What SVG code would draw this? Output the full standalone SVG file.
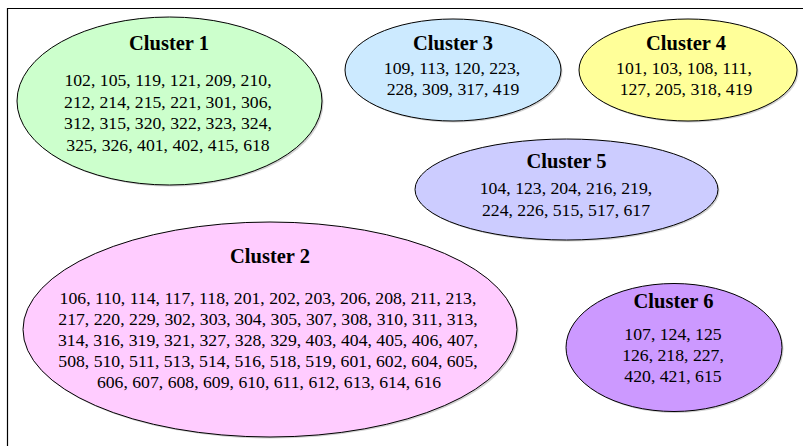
<svg xmlns="http://www.w3.org/2000/svg" width="803" height="446" viewBox="0 0 803 446">
<style>
.e{stroke:#000;stroke-width:1}
.sh{fill:#999;opacity:0.45}
.t{font-family:"Liberation Serif","Times New Roman",serif;font-weight:bold;font-size:20.5px;fill:#000;text-anchor:middle}
.n{font-family:"Liberation Serif","Times New Roman",serif;font-size:17.7px;fill:#000;text-anchor:middle}
</style>
<rect width="803" height="446" fill="#fff"/>
<path d="M7.5 446 V8.5 H803" fill="none" stroke="#000" stroke-width="1.2"/>
<g id="connectors"/>
<g id="cluster1">
<ellipse class="sh" cx="171" cy="102.5" rx="152.5" ry="84"/>
<ellipse class="e" cx="169.5" cy="101" rx="152.5" ry="84" fill="#ccffcc"/>
<text class="t" x="169" y="50">Cluster 1</text>
<text class="n" x="168" y="86">102, 105, 119, 121, 209, 210,</text>
<text class="n" x="168" y="107.5">212, 214, 215, 221, 301, 306,</text>
<text class="n" x="168" y="129">312, 315, 320, 322, 323, 324,</text>
<text class="n" x="168" y="150.5">325, 326, 401, 402, 415, 618</text>
</g>
<g id="cluster3">
<ellipse class="sh" cx="454.5" cy="71.5" rx="108" ry="51"/>
<ellipse class="e" cx="453" cy="70" rx="108" ry="51" fill="#cceaff"/>
<text class="t" x="453" y="50">Cluster 3</text>
<text class="n" x="452" y="74">109, 113, 120, 223,</text>
<text class="n" x="453" y="95">228, 309, 317, 419</text>
</g>
<g id="cluster4">
<ellipse class="sh" cx="689.5" cy="71.5" rx="109" ry="51"/>
<ellipse class="e" cx="688" cy="70" rx="109" ry="51" fill="#ffff99"/>
<text class="t" x="686" y="50">Cluster 4</text>
<text class="n" x="684" y="74">101, 103, 108, 111,</text>
<text class="n" x="686" y="95">127, 205, 318, 419</text>
</g>
<g id="cluster5">
<ellipse class="sh" cx="568" cy="191" rx="151.5" ry="50.5"/>
<ellipse class="e" cx="566.5" cy="189.5" rx="151.5" ry="50.5" fill="#ccccff"/>
<text class="t" x="566.5" y="168">Cluster 5</text>
<text class="n" x="566" y="194">104, 123, 204, 216, 219,</text>
<text class="n" x="566" y="216">224, 226, 515, 517, 617</text>
</g>
<g id="cluster2">
<ellipse class="sh" cx="271.5" cy="331" rx="247" ry="107.5"/>
<ellipse class="e" cx="270" cy="329.5" rx="247" ry="107.5" fill="#ffccff"/>
<text class="t" x="270" y="263">Cluster 2</text>
<text class="n" x="268" y="303.5">106, 110, 114, 117, 118, 201, 202, 203, 206, 208, 211, 213,</text>
<text class="n" x="268" y="324.5">217, 220, 229, 302, 303, 304, 305, 307, 308, 310, 311, 313,</text>
<text class="n" x="268" y="345.5">314, 316, 319, 321, 327, 328, 329, 403, 404, 405, 406, 407,</text>
<text class="n" x="268" y="366.5">508, 510, 511, 513, 514, 516, 518, 519, 601, 602, 604, 605,</text>
<text class="n" x="269" y="387.5">606, 607, 608, 609, 610, 611, 612, 613, 614, 616</text>
</g>
<g id="cluster6">
<ellipse class="sh" cx="675.5" cy="349" rx="108" ry="64"/>
<ellipse class="e" cx="674" cy="347.5" rx="108" ry="64" fill="#cc99ff"/>
<text class="t" x="673.5" y="308">Cluster 6</text>
<text class="n" x="673" y="339.5">107, 124, 125</text>
<text class="n" x="673" y="361">126, 218, 227,</text>
<text class="n" x="673" y="382">420, 421, 615</text>
</g>
</svg>
